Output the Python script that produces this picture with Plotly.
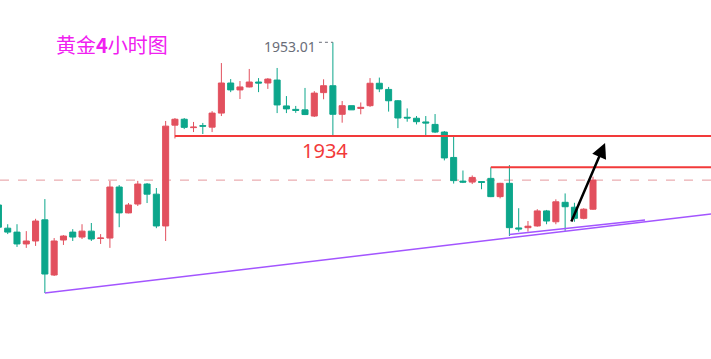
import plotly.graph_objects as go

# Gold 4-hour candles (price values)
opens = [1920.0, 1915.3, 1914.5, 1912.1, 1912.7, 1917.0, 1905.8, 1912.9, 1914.5, 1913.5,
         1914.7, 1913.2, 1913.3, 1923.65, 1918.4, 1920.2, 1924.25, 1922.2, 1915.75, 1936.2,
         1937.4, 1935.7, 1936.1, 1935.8, 1938.65, 1944.75, 1943.35, 1943.95, 1944.95, 1944.75,
         1945.35, 1940.1, 1939.4, 1939.3, 1938.05, 1942.8, 1944.2, 1938.4, 1940.15, 1939.6,
         1940.15, 1944.7, 1943.45, 1941.15, 1937.8, 1937.6, 1936.85, 1936.35, 1934.8, 1929.65,
         1924.85, 1924.65, 1924.75, 1925.4, 1921.7, 1924.4, 1915.35, 1915.4, 1915.75, 1918.8,
         1916.6, 1920.55, 1919.55, 1917.3, 1919.15]
highs = [1920.4, 1916.1, 1916.1, 1914.7, 1917.2, 1921.2, 1913.3, 1913.9, 1915.1, 1916.1,
         1916.35, 1914.1, 1924.9, 1924.05, 1920.4, 1924.9, 1924.45, 1923.45, 1937.05, 1937.65,
         1937.65, 1936.85, 1936.65, 1939.05, 1948.8, 1945.55, 1945.15, 1947.6, 1945.75, 1945.75,
         1947.8, 1942.1, 1940.1, 1943.75, 1943.1, 1945.5, 1953.01, 1941.1, 1940.15, 1940.8,
         1945.75, 1945.85, 1943.95, 1941.3, 1939.6, 1938.05, 1938.05, 1938.45, 1935.0, 1934.0,
         1927.0, 1926.0, 1924.8, 1927.65, 1924.5, 1928.1, 1919.35, 1916.75, 1919.15, 1919.0,
         1921.15, 1922.35, 1920.45, 1919.35, 1925.75]
lows = [1915.1, 1914.1, 1911.5, 1911.3, 1911.7, 1902.15, 1905.6, 1911.9, 1912.7, 1913.1,
        1912.7, 1912.1, 1911.3, 1915.5, 1918.3, 1919.8, 1920.4, 1915.3, 1912.7, 1933.5,
        1935.4, 1934.8, 1934.4, 1934.8, 1938.05, 1942.9, 1941.5, 1943.85, 1942.9, 1943.55,
        1938.65, 1938.65, 1938.7, 1938.25, 1937.85, 1941.45, 1933.85, 1936.7, 1939.3, 1938.4,
        1939.9, 1942.9, 1938.95, 1935.6, 1936.9, 1936.35, 1934.1, 1934.6, 1929.05, 1924.35,
        1924.45, 1924.25, 1923.2, 1921.6, 1921.35, 1913.7, 1914.6, 1914.6, 1915.6, 1916.1,
        1916.1, 1914.75, 1916.6, 1917.1, 1919.0]
closes = [1915.5, 1914.5, 1912.1, 1912.7, 1916.75, 1906.0, 1912.7, 1913.7, 1913.5, 1914.7,
          1913.1, 1913.3, 1923.65, 1918.4, 1920.0, 1924.25, 1922.2, 1915.75, 1936.0, 1937.4,
          1935.75, 1935.8, 1936.0, 1938.65, 1944.75, 1943.35, 1943.95, 1944.95, 1944.75, 1945.55,
          1940.3, 1939.5, 1939.2, 1938.35, 1942.7, 1944.2, 1938.4, 1940.15, 1939.3, 1939.8,
          1944.7, 1943.55, 1941.15, 1937.65, 1937.65, 1936.9, 1936.65, 1934.8, 1929.55, 1924.95,
          1924.65, 1925.6, 1924.6, 1921.7, 1924.4, 1915.4, 1915.15, 1915.7, 1918.8, 1916.75,
          1920.65, 1919.65, 1917.3, 1919.15, 1925.05]
idx = list(range(len(opens)))

title_text = "黄金<b>4</b>小时图"
level_main = 1934.0
level_main_label = "1934"
level_main_from = 19
level_second = highs[53]
level_second_from = 53
high_idx = 36
high_label = "1953.01"

trend_main = [(5, lows[5]), (76.7, 1918.17)]
trend_short = [(55, lows[55]), (69.6, 1916.96)]
arrow_from = (61.6, 1916.35)
arrow_to = (65.3, 1932.6)

x_range = [0.17, 76.7]
y_range = [1888.76, 1961.59]

RED = "#e2505e"
GREEN = "#0ca68b"
LINE_RED = "#f23a3a"
PURPLE = "#a355ff"

fig = go.Figure()
fig.add_trace(go.Candlestick(
    x=idx, open=opens, high=highs, low=lows, close=closes,
    increasing=dict(line=dict(color=RED, width=1), fillcolor=RED),
    decreasing=dict(line=dict(color=GREEN, width=1), fillcolor=GREEN),
    whiskerwidth=0, hoverinfo="skip", showlegend=False,
))

shapes = [
    dict(type="line", xref="x", yref="y", x0=x_range[0], x1=x_range[1],
         y0=closes[-1], y1=closes[-1], line=dict(color="rgba(215,95,105,0.65)", width=1, dash="dash"), layer="below"),
    dict(type="line", xref="x", yref="y", x0=level_main_from, x1=x_range[1],
         y0=level_main, y1=level_main, line=dict(color=LINE_RED, width=2)),
    dict(type="line", xref="x", yref="y", x0=level_second_from, x1=x_range[1],
         y0=level_second, y1=level_second, line=dict(color=LINE_RED, width=2)),
    dict(type="line", xref="x", yref="y", x0=trend_main[0][0], y0=trend_main[0][1],
         x1=trend_main[1][0], y1=trend_main[1][1], line=dict(color=PURPLE, width=1.5)),
    dict(type="line", xref="x", yref="y", x0=trend_short[0][0], y0=trend_short[0][1] + 0.3,
         x1=trend_short[1][0], y1=trend_short[1][1], line=dict(color=PURPLE, width=1.5)),
    dict(type="line", xref="x", yref="y", x0=high_idx - 1.5, x1=high_idx,
         y0=highs[high_idx], y1=highs[high_idx], line=dict(color="#6a6d78", width=1, dash="dot")),
]

annotations = [
    dict(text=title_text, xref="paper", yref="paper", x=54 / 711, y=1 - 44 / 359,
         xanchor="left", yanchor="middle", showarrow=False,
         font=dict(family="Noto Sans CJK SC", size=20, color="#f020f0")),
    dict(text=level_main_label, xref="x", yref="y", x=35.2, y=level_main,
         xanchor="center", yanchor="top", yshift=1, showarrow=False,
         font=dict(family="Noto Sans", size=20, color=LINE_RED)),
    dict(text=high_label, xref="x", yref="y", x=high_idx - 1.6, y=highs[high_idx],
         xanchor="right", yanchor="middle", yshift=-4, showarrow=False,
         font=dict(family="Noto Sans", size=14, color="#6a6d78")),
    dict(text="", xref="x", yref="y", axref="x", ayref="y",
         x=arrow_to[0], y=arrow_to[1], ax=arrow_from[0], ay=arrow_from[1],
         showarrow=True, arrowhead=2, arrowsize=1.2, arrowwidth=2.5, arrowcolor="#000000"),
]

fig.update_layout(
    width=711, height=359,
    margin=dict(l=0, r=0, t=0, b=0),
    paper_bgcolor="white", plot_bgcolor="white",
    boxgap=0.35, boxgroupgap=0,
    shapes=shapes, annotations=annotations,
    xaxis=dict(range=x_range, visible=False, rangeslider=dict(visible=False), fixedrange=True),
    yaxis=dict(range=y_range, visible=False, fixedrange=True),
    showlegend=False,
)

fig.write_html(
    "out.html",
    config=dict(displayModeBar=False),
    post_script="document.body.style.margin='0';document.body.style.overflow='hidden';",
)
